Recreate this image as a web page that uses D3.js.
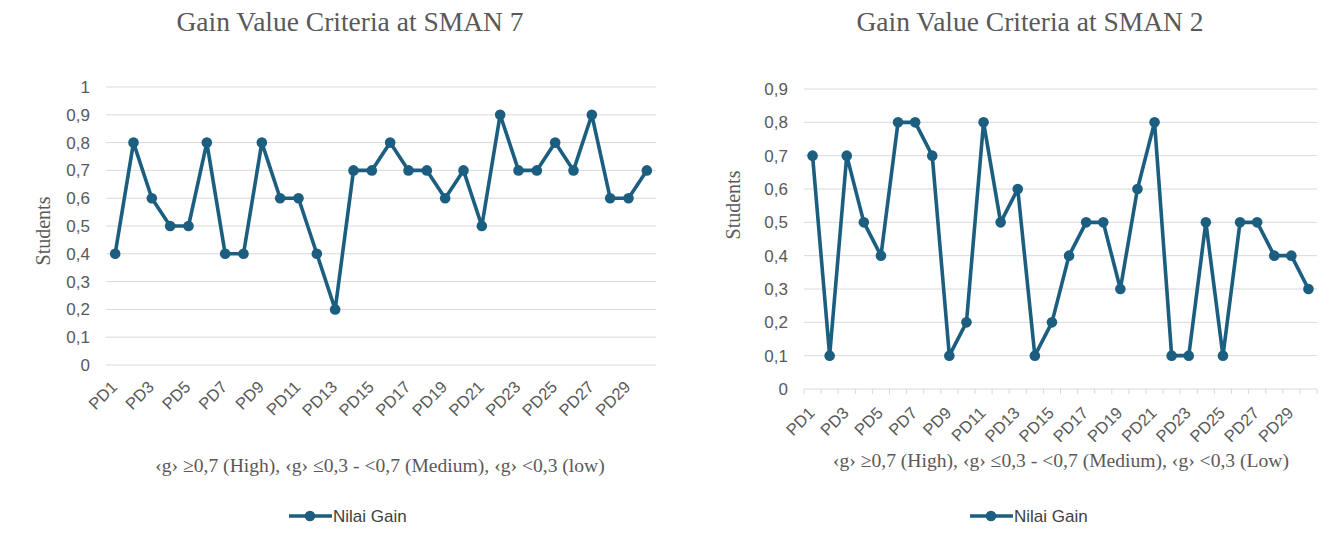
<!DOCTYPE html>
<html>
<head>
<meta charset="utf-8">
<script src="https://cdn.jsdelivr.net/npm/d3@7"></script>
<style>
  body { margin: 0; background: #fff; }
  svg { display: block; }
  .tick text { font-family: "Liberation Sans", Arial, sans-serif; fill: #595959; }
</style>
</head>
<body>
<svg id="chart" width="1344" height="550"></svg>
<script>
// students PD1..PD30
const students = d3.range(1, 31).map(i => 'PD' + i);

// gain values, SMAN 7 (left) and SMAN 2 (right)
const gainSman7 = [0.4, 0.8, 0.6, 0.5, 0.5, 0.8, 0.4, 0.4, 0.8, 0.6,
                   0.6, 0.4, 0.2, 0.7, 0.7, 0.8, 0.7, 0.7, 0.6, 0.7,
                   0.5, 0.9, 0.7, 0.7, 0.8, 0.7, 0.9, 0.6, 0.6, 0.7];
const gainSman2 = [0.7, 0.1, 0.7, 0.5, 0.4, 0.8, 0.8, 0.7, 0.1, 0.2,
                   0.8, 0.5, 0.6, 0.1, 0.2, 0.4, 0.5, 0.5, 0.3, 0.6,
                   0.8, 0.1, 0.1, 0.5, 0.1, 0.5, 0.5, 0.4, 0.4, 0.3];

const ticksSman7 = d3.range(0, 11).map(i => i / 10);
const ticksSman2 = d3.range(0, 10).map(i => i / 10);

const titles = ['Gain Value Criteria at SMAN 7', 'Gain Value Criteria at SMAN 2'];
const captions = ['\u2039g\u203A \u22650,7 (High), \u2039g\u203A \u22640,3 - <0,7 (Medium), \u2039g\u203A <0,3 (low)',
                  '\u2039g\u203A \u22650,7 (High), \u2039g\u203A \u22640,3 - <0,7 (Medium), \u2039g\u203A <0,3 (Low)'];
const seriesName = 'Nilai Gain';

const color = '#1b5e80';
const grid = '#d9d9d9';
const serif = '"Liberation Serif", "Times New Roman", serif';
const fmt = d => String(+d.toFixed(1)).replace('.', ',');

const svg = d3.select('#chart');

function drawChart(cfg) {
  const g = svg.append('g');

  const x = d3.scaleBand().domain(students).range([cfg.left, cfg.right]);
  const y = d3.scaleLinear().domain([0, cfg.max]).range([cfg.bottom, cfg.top]);
  const cx = d => x(d) + x.bandwidth() / 2;

  // gridlines
  g.append('g')
    .selectAll('line')
    .data(cfg.ticks)
    .join('line')
      .attr('x1', cfg.left).attr('x2', cfg.right)
      .attr('y1', d => y(d)).attr('y2', d => y(d))
      .attr('stroke', grid).attr('stroke-width', 1);

  // y axis labels
  const yAxis = d3.axisLeft(y).tickValues(cfg.ticks).tickFormat(fmt).tickSize(0).tickPadding(16);
  g.append('g')
    .attr('transform', `translate(${cfg.left},0)`)
    .call(yAxis)
    .call(a => a.select('.domain').remove())
    .selectAll('text').style('font-size', '17px');

  // x axis, every other label, rotated
  const xAxis = d3.axisBottom(x).tickValues(students.filter((d, i) => i % 2 === 0))
    .tickSize(0).tickPadding(0);
  const xg = g.append('g')
    .attr('transform', `translate(0,${cfg.bottom})`)
    .call(xAxis);
  xg.select('.domain').remove();
  xg.selectAll('text')
    .style('font-size', '16.5px')
    .attr('text-anchor', 'end')
    .attr('dy', '0.35em')
    .attr('transform', `translate(-1,${cfg.labelDrop}) rotate(-45)`);

  if (cfg.tickMarks) {
    const bounds = d3.range(0, students.length + 1).map(i => cfg.left + i * x.step());
    g.append('g')
      .selectAll('line')
      .data(bounds)
      .join('line')
        .attr('x1', d => d).attr('x2', d => d)
        .attr('y1', cfg.bottom).attr('y2', cfg.bottom + 5)
        .attr('stroke', grid);
  }

  // line + markers
  const line = d3.line().x((d, i) => cx(students[i])).y(d => y(d));
  g.append('path')
    .datum(cfg.values)
    .attr('fill', 'none')
    .attr('stroke', color)
    .attr('stroke-width', 3.6)
    .attr('stroke-linejoin', 'round')
    .attr('d', line);
  g.append('g')
    .selectAll('circle')
    .data(cfg.values)
    .join('circle')
      .attr('cx', (d, i) => cx(students[i]))
      .attr('cy', d => y(d))
      .attr('r', 5.3)
      .attr('fill', color);

  // title
  g.append('text')
    .attr('x', cfg.titleX).attr('y', 31)
    .attr('text-anchor', 'middle')
    .style('font-family', serif)
    .style('font-size', '27.5px')
    .style('fill', '#595959')
    .text(cfg.title);

  // y label
  g.append('text')
    .attr('transform', `translate(${cfg.yLabelX},${cfg.yLabelY}) rotate(-90)`)
    .attr('text-anchor', 'middle')
    .attr('dy', '0.35em')
    .style('font-family', serif)
    .style('font-size', '20px')
    .style('fill', '#595959')
    .text('Students');

  // caption
  g.append('text')
    .attr('x', cfg.captionX).attr('y', cfg.captionY)
    .attr('text-anchor', 'middle')
    .style('font-family', serif)
    .style('font-size', '19.6px')
    .style('fill', '#595959')
    .text(cfg.caption);

  // legend
  const lg = g.append('g').attr('transform', `translate(${cfg.legendX},516)`);
  lg.append('line').attr('x1', 0).attr('x2', 43).attr('y1', 0).attr('y2', 0)
    .attr('stroke', color).attr('stroke-width', 3.6);
  lg.append('circle').attr('cx', 21).attr('cy', 0).attr('r', 5.3).attr('fill', color);
  lg.append('text').attr('x', 44).attr('y', 0).attr('dy', '0.35em')
    .style('font-family', '"Liberation Sans", Arial, sans-serif')
    .style('font-size', '17px')
    .style('fill', '#404040')
    .text(seriesName);
}

drawChart({
  values: gainSman7, ticks: ticksSman7, max: 1,
  left: 106, right: 656, top: 87, bottom: 365, labelDrop: 19,
  tickMarks: false, title: titles[0], titleX: 350, yLabelX: 43, yLabelY: 231,
  caption: captions[0], captionX: 380, captionY: 472, legendX: 289
});

drawChart({
  values: gainSman2, ticks: ticksSman2, max: 0.9,
  left: 804, right: 1317, top: 89, bottom: 389, labelDrop: 21,
  tickMarks: true, title: titles[1], titleX: 1030, yLabelX: 733, yLabelY: 205,
  caption: captions[1], captionX: 1061, captionY: 467, legendX: 970
});
</script>
</body>
</html>
